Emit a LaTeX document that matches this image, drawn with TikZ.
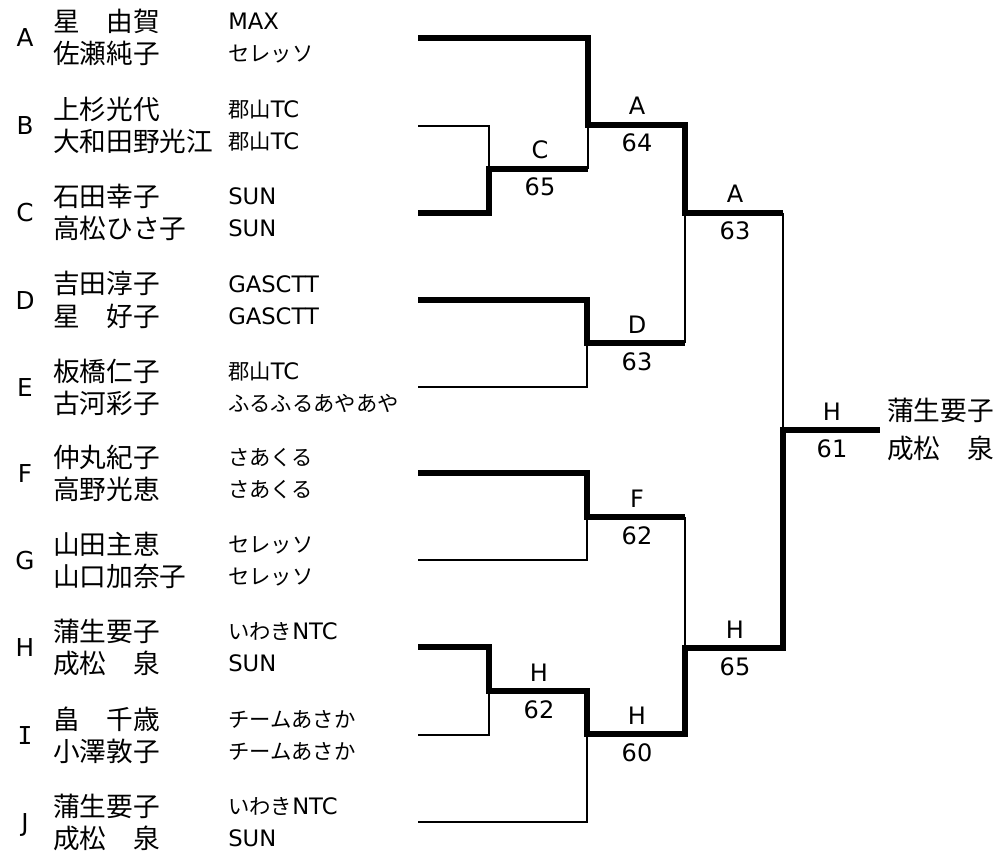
\documentclass[tikz,border=0pt]{standalone}
\usepackage{fontspec}
\setmainfont{DejaVu Sans}
\newfontfamily\cjk{Noto Sans CJK JP}
\newfontfamily\monoI{DejaVu Sans Mono}
\newcommand\jc[1]{{\cjk\fontsize{16pt}{18pt}\selectfont #1}}
\newcommand\entry[7]{%
  \node[letter] (L#1) at (25,#2+9) {#3};
  \node[nm] (N#1a) at (53,#2-6) {#4};
  \node[nm] (N#1b) at (53,#2+26) {#5};
  \node[club] (C#1a) at (228,#2-8) {#6};
  \node[club] (C#1b) at (228,#2+24) {#7};
}
\tikzset{
  nm/.style={anchor=base west, inner sep=0pt, font=\cjk\fontsize{20pt}{24pt}\selectfont},
  club/.style={anchor=base west, inner sep=0pt, font=\fontsize{17pt}{20pt}\selectfont},
  letter/.style={anchor=base, inner sep=0pt, font=\fontsize{18.5pt}{20pt}\selectfont},
  lab/.style={anchor=base, inner sep=0pt, font=\fontsize{18pt}{20pt}\selectfont},
  win/.style={line width=4.5pt, line join=miter, line cap=butt},
  lose/.style={line width=1.1pt, line join=miter, line cap=butt},
}
\begin{document}
\begin{tikzpicture}[x=0.75pt, y=-0.75pt]
\useasboundingbox (0,0) rectangle (1005,855);

\entry{A}{38}{A}{星　由賀}{佐瀬純子}{MAX}{\jc{セレッソ}}
\entry{B}{126}{B}{上杉光代}{大和田野光江}{\jc{郡山}TC}{\jc{郡山}TC}
\entry{C}{213}{C}{石田幸子}{高松ひさ子}{SUN}{SUN}
\entry{D}{300}{D}{吉田淳子}{星　好子}{GASCTT}{GASCTT}
\entry{E}{387}{E}{板橋仁子}{古河彩子}{\jc{郡山}TC}{\jc{ふるふるあやあや}}
\entry{F}{473}{F}{仲丸紀子}{高野光恵}{\jc{さあくる}}{\jc{さあくる}}
\entry{G}{560}{G}{山田主恵}{山口加奈子}{\jc{セレッソ}}{\jc{セレッソ}}
\entry{H}{647}{H}{蒲生要子}{成松　泉}{\jc{いわき}NTC}{SUN}
\entry{I}{735}{{\monoI I}}{畠　千歳}{小澤敦子}{\jc{チームあさか}}{\jc{チームあさか}}
\entry{J}{822}{J}{蒲生要子}{成松　泉}{\jc{いわき}NTC}{SUN}

% bracket points
\coordinate (a0) at (418,38);  \coordinate (a1) at (588,38);
\coordinate (b0) at (418,126); \coordinate (b1) at (489,126);
\coordinate (c0) at (418,213); \coordinate (c1) at (489,213);
\coordinate (d0) at (418,300); \coordinate (d1) at (587,300);
\coordinate (e0) at (418,387); \coordinate (e1) at (587,387);
\coordinate (f0) at (418,473); \coordinate (f1) at (587,473);
\coordinate (g0) at (418,560); \coordinate (g1) at (587,560);
\coordinate (h0) at (418,647); \coordinate (h1) at (489,647);
\coordinate (i0) at (418,735); \coordinate (i1) at (489,735);
\coordinate (j0) at (418,822); \coordinate (j1) at (587,822);
% match lines
\coordinate (bcL) at (489,169); \coordinate (bcR) at (588,169);
\coordinate (abcL) at (588,125); \coordinate (abcR) at (685,125);
\coordinate (deL) at (587,343); \coordinate (deR) at (685,343);
\coordinate (adeL) at (685,213); \coordinate (adeR) at (783,213);
\coordinate (fgL) at (587,517); \coordinate (fgR) at (685,517);
\coordinate (hiL) at (489,691); \coordinate (hiR) at (587,691);
\coordinate (hijL) at (587,734); \coordinate (hijR) at (685,734);
\coordinate (fghL) at (685,648); \coordinate (fghR) at (783,648);
\coordinate (finL) at (783,430); \coordinate (finR) at (880,430);

% losers (thin)
\draw[lose] (b0) -- (b1) -- (bcL);
\draw[lose] (bcR) -- (abcL);
\draw[lose] (e0) -- (e1) -- (deL);
\draw[lose] (deR) -- (adeL);
\draw[lose] (adeR) -- (finL);
\draw[lose] (g0) -- (g1) -- (fgL);
\draw[lose] (fgR) -- (fghL);
\draw[lose] (i0) -- (i1) -- (hiL);
\draw[lose] (j0) -- (j1) -- (hijL);

% winners (thick)
\draw[win] (a0) -- (a1) -- (abcL) -- (abcR) -- (adeL) -- (adeR);
\draw[win] (c0) -- (c1) -- (bcL) -- (bcR);
\draw[win] (d0) -- (d1) -- (deL) -- (deR);
\draw[win] (f0) -- (f1) -- (fgL) -- (fgR);
\draw[win] (h0) -- (h1) -- (hiL) -- (hiR) -- (hijL) -- (hijR) -- (fghL) -- (fghR) -- (finL) -- (finR);

% match labels
\node[lab] (wBC) at (540,159) {C};  \node[lab] (sBC) at (540,196) {65};
\node[lab] (wABC) at (637,115) {A}; \node[lab] (sABC) at (637,152) {64};
\node[lab] (wDE) at (637,333) {D};  \node[lab] (sDE) at (637,370) {63};
\node[lab] (wADE) at (735,203) {A}; \node[lab] (sADE) at (735,240) {63};
\node[lab] (wFG) at (637,507) {F};  \node[lab] (sFG) at (637,544) {62};
\node[lab] (wHI) at (539,681) {H};  \node[lab] (sHI) at (539,718) {62};
\node[lab] (wHIJ) at (637,724) {H}; \node[lab] (sHIJ) at (637,761) {60};
\node[lab] (wFGH) at (735,638) {H}; \node[lab] (sFGH) at (735,675) {65};
\node[lab] (wFin) at (832,420) {H}; \node[lab] (sFin) at (832,457) {61};

% champion
\node[nm] (champ1) at (887,420) {蒲生要子};
\node[nm] (champ2) at (887,458) {成松　泉};
\end{tikzpicture}
\end{document}
